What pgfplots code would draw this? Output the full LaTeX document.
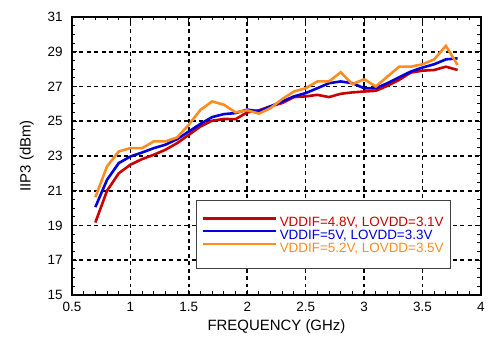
\documentclass[border=0pt]{standalone}
\usepackage{fontspec}
\setmainfont{Liberation Sans}
\setsansfont{Liberation Sans}
\usepackage{pgfplots}
\pgfplotsset{compat=1.18}
\definecolor{cred}{RGB}{200,0,0}
\definecolor{cblue}{RGB}{0,0,220}
\definecolor{corange}{RGB}{255,140,30}
\begin{document}
\begin{tikzpicture}
\begin{axis}[
  scale only axis,
  width=409bp, height=278bp,
  xmin=0.5, xmax=4, ymin=15, ymax=31,
  xtick={0.5,1,...,4}, ytick={15,17,...,31},
  minor x tick num=4, minor y tick num=3,
  tick align=inside,
  major tick length=5pt, minor tick length=3.5pt,
  tick style={black, line width=1pt},
  axis line style={line width=2.6pt},
  grid=major,
  major grid style={black, dash pattern=on 4pt off 3.5pt, line width=1.6pt},
  xlabel={FREQUENCY (GHz)}, ylabel={IIP3 (dBm)},
  label style={font=\fontsize{15}{17}\selectfont\sffamily},
  ticklabel style={font=\fontsize{13.5}{15}\selectfont\sffamily},
  xlabel style={yshift=-1pt}, ylabel style={yshift=7pt},
  xticklabel style={yshift=-4pt},
  yticklabel style={xshift=-6pt},
  /pgf/number format/assume math mode=true,
  xticklabel style={/pgf/number format/.cd, fixed, precision=1},
  legend style={at={(0.303,0.094)}, anchor=south west, draw=black!75, line width=0.8pt,
    font=\fontsize{13.5}{13.5}\selectfont\sffamily, row sep=3pt, inner xsep=5pt, inner ysep=16pt,
    nodes={inner ysep=0.5pt, text height=9pt, text depth=0pt},
    /tikz/every even column/.append style={column sep=2pt}},
  legend cell align=left,
  legend image post style={line width=2.8pt},
  legend image code/.code={\draw[#1] (0cm,3.5pt) -- (2.6cm,3.5pt);},
]
\addplot[cred, line width=2.6pt] coordinates {
(0.7,19.17)(0.8,21.0)(0.9,22.0)(1.0,22.5)(1.1,22.82)(1.2,23.07)(1.3,23.36)(1.4,23.74)
(1.5,24.22)(1.6,24.7)(1.7,25.03)(1.8,25.13)(1.9,25.12)(2.0,25.51)(2.1,25.63)(2.2,25.86)
(2.3,26.05)(2.4,26.39)(2.5,26.43)(2.6,26.52)(2.7,26.39)(2.8,26.58)(2.9,26.66)(3.0,26.71)
(3.1,26.75)(3.2,27.04)(3.3,27.38)(3.4,27.8)(3.5,27.91)(3.6,27.95)(3.7,28.14)(3.8,27.95)};
\addlegendentry{\textcolor{cred}{VDDIF=4.8V, LOVDD=3.1V}}
\addplot[cblue, line width=2.6pt] coordinates {
(0.7,20.06)(0.8,21.63)(0.9,22.59)(1.0,22.97)(1.1,23.2)(1.2,23.45)(1.3,23.65)(1.4,23.97)
(1.5,24.41)(1.6,24.85)(1.7,25.24)(1.8,25.41)(1.9,25.47)(2.0,25.67)(2.1,25.57)(2.2,25.86)
(2.3,26.14)(2.4,26.43)(2.5,26.62)(2.6,26.9)(2.7,27.19)(2.8,27.29)(2.9,27.19)(3.0,26.9)
(3.1,26.9)(3.2,27.19)(3.3,27.53)(3.4,27.86)(3.5,28.09)(3.6,28.28)(3.7,28.56)(3.8,28.62)};
\addlegendentry{\textcolor{cblue}{VDDIF=5V, LOVDD=3.3V}}
\addplot[corange, line width=2.6pt] coordinates {
(0.7,20.63)(0.8,22.4)(0.9,23.26)(1.0,23.45)(1.1,23.45)(1.2,23.84)(1.3,23.84)(1.4,24.07)
(1.5,24.8)(1.6,25.66)(1.7,26.14)(1.8,25.95)(1.9,25.51)(2.0,25.63)(2.1,25.44)(2.2,25.76)
(2.3,26.28)(2.4,26.71)(2.5,26.9)(2.6,27.29)(2.7,27.29)(2.8,27.82)(2.9,27.13)(3.0,27.42)
(3.1,27.0)(3.2,27.57)(3.3,28.14)(3.4,28.14)(3.5,28.28)(3.6,28.56)(3.7,29.34)(3.8,28.24)};
\addlegendentry{\textcolor{corange}{VDDIF=5.2V, LOVDD=3.5V}}
\end{axis}
\path (current axis.south west) ++(-72bp,-59bp) (current axis.north east) ++(7bp,17bp);
\end{tikzpicture}
\end{document}
